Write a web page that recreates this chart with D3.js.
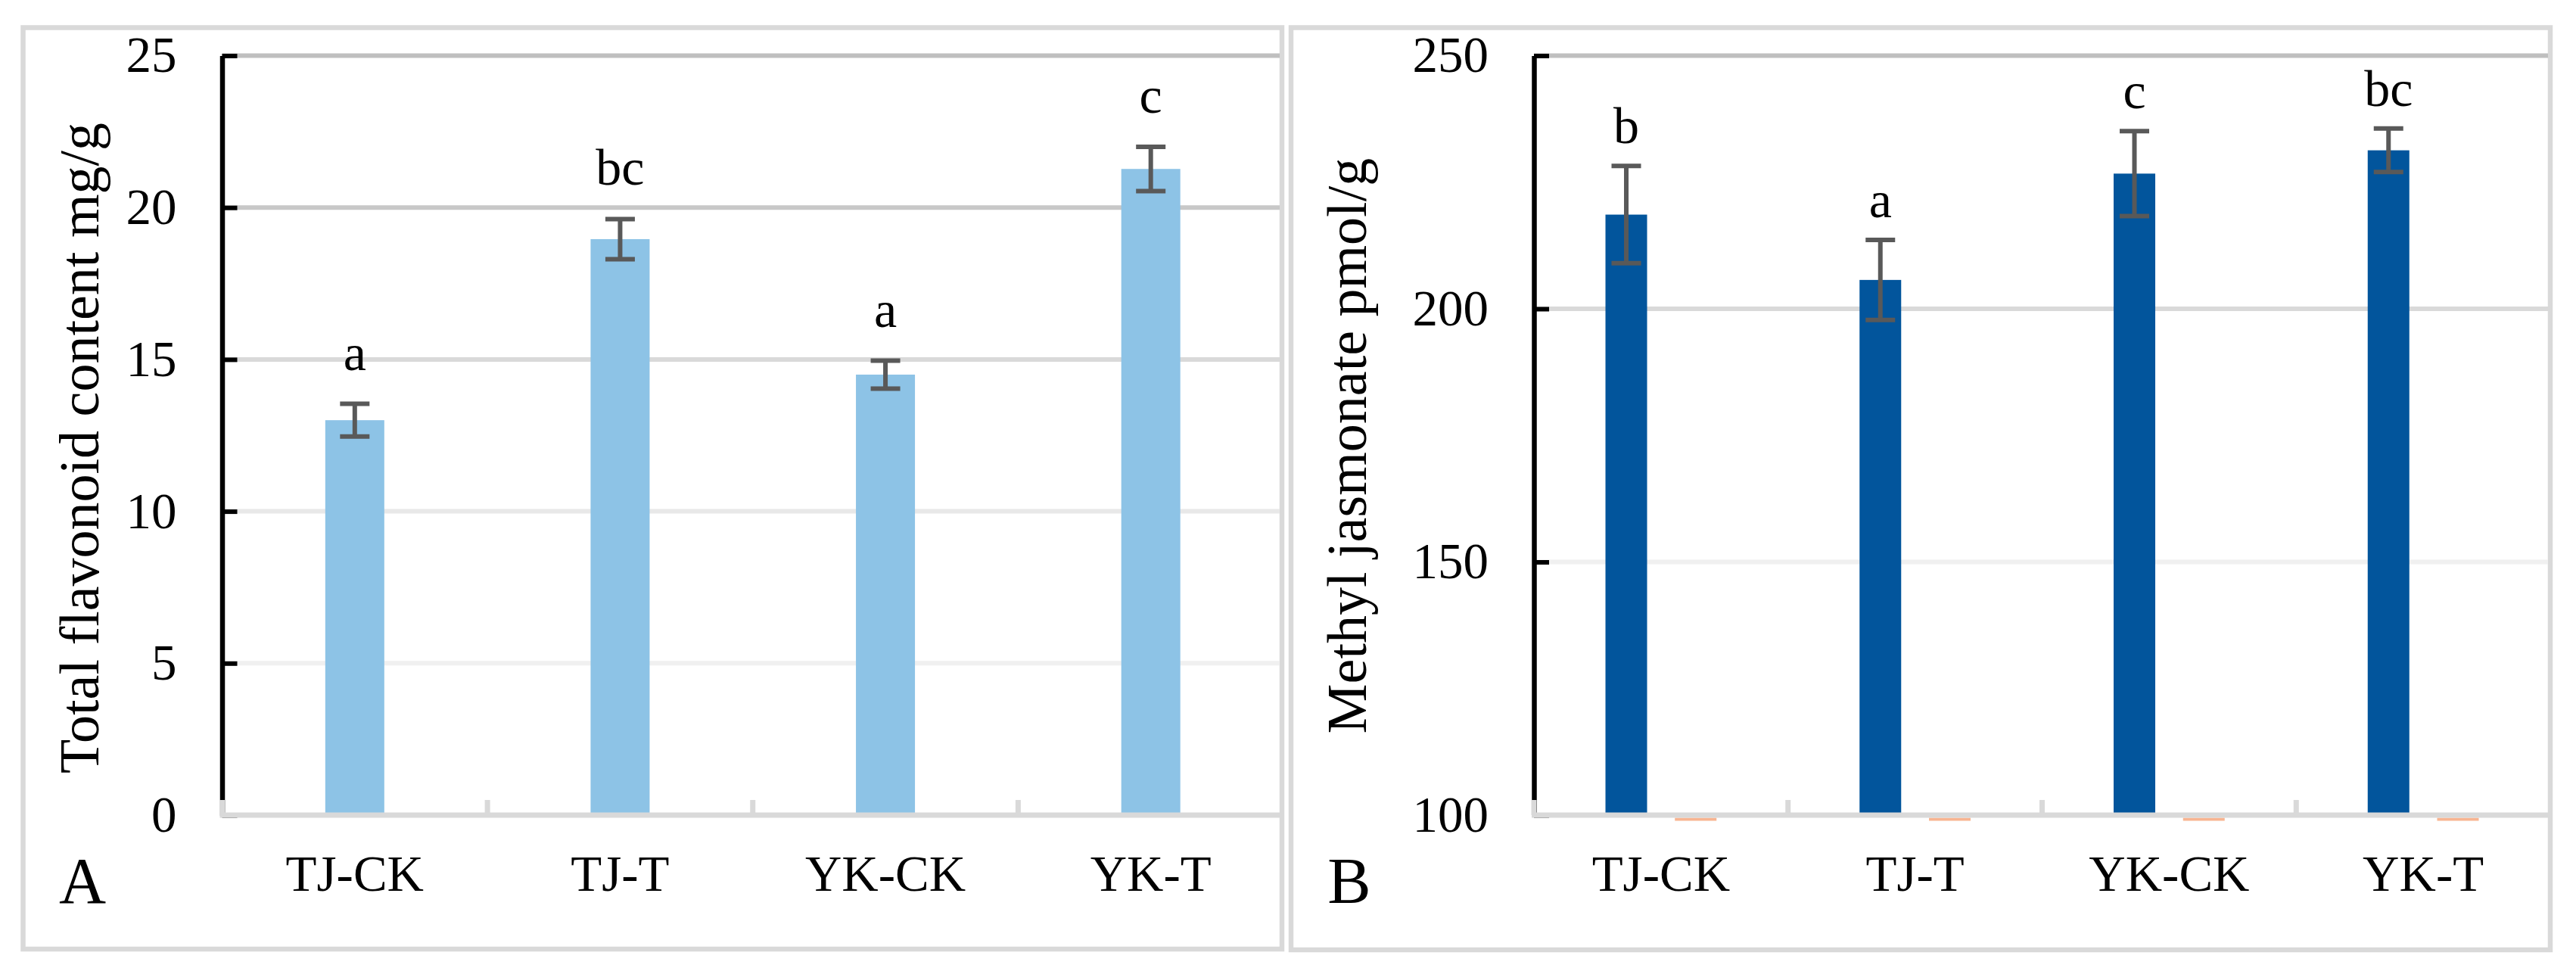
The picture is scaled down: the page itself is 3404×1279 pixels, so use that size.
<!DOCTYPE html>
<html>
<head>
<meta charset="utf-8">
<script src="https://cdn.jsdelivr.net/npm/d3@7"></script>
<style>
  body { margin: 0; background: #fff; }
  svg { display: block; font-family: "Liberation Serif", "Times New Roman", serif; }
</style>
</head>
<body>
<div class="container"></div>
<script>
// data
const categories = ["TJ-CK", "TJ-T", "YK-CK", "YK-T"];

const flavonoid = [13.0, 18.96, 14.5, 21.27];
const flavonoidErr = [0.54, 0.66, 0.46, 0.73];
const flavonoidLetters = ["a", "bc", "a", "c"];
const flavonoidTicks = [0, 5, 10, 15, 20, 25];

const mejaSeries = ["MeJA", "Series 2"];
const meja = [218.6, 205.7, 226.7, 231.3];
const mejaErr = [9.6, 7.9, 8.4, 4.3];
const mejaLetters = ["b", "a", "c", "bc"];
const mejaSecond = [0, 0, 0, 0];
const mejaTicks = [100, 150, 200, 250];

const W = 3404, H = 1279;
const FONT = '"Liberation Serif", "Times New Roman", serif';

const svg = d3.select(".container").append("svg")
    .attr("width", W)
    .attr("height", H);

const panels = [
  {
    frame: [30.5, 36.5, 1694, 1254],
    left: 293.5, right: 1696, gridEnd: 1691,
    ticks: flavonoidTicks,
    gridColors: ["#f0f0f0", "#e8e8e8", "#d9d9d9", "#c8c8c8", "#bfbfbf"],
    series: [{ name: "flavonoid", values: flavonoid, err: flavonoidErr, letters: flavonoidLetters, color: "#8dc3e6" }],
    barW: 78, letterGap: 45,
    title: "Total flavonoid content mg/g", titleX: 129.5, titleY: 592,
    tag: "A", tagX: 109
  },
  {
    frame: [1706, 36.5, 3370, 1255],
    left: 2027, right: 3370, gridEnd: 3367,
    ticks: mejaTicks,
    gridColors: ["#f0f0f0", "#d9d9d9", "#bfbfbf"],
    series: [
      { name: mejaSeries[0], values: meja, err: mejaErr, letters: mejaLetters, color: "#02559c" },
      { name: mejaSeries[1], values: mejaSecond, color: "#f8b592" }
    ],
    barW: 55, letterGap: 30,
    title: "Methyl jasmonate pmol/g", titleX: 1805, titleY: 589,
    tag: "B", tagX: 1783
  }
];

panels.forEach(drawPanel);

function drawPanel(p) {
  const g = svg.append("g");

  g.append("rect")
    .attr("x", p.frame[0])
    .attr("y", p.frame[1])
    .attr("width", p.frame[2] - p.frame[0])
    .attr("height", p.frame[3] - p.frame[1])
    .attr("fill", "none")
    .attr("stroke", "#d9d9d9")
    .attr("stroke-width", 6.5);

  const x = d3.scaleBand().domain(categories).range([p.left, p.right]);
  const y = d3.scaleLinear().domain(d3.extent(p.ticks)).range([1077, 73.5]);
  const base = y(p.ticks[0]);

  // sub-band for clustered bars
  const sub = d3.scaleBand()
      .domain(p.series.map(s => s.name))
      .range([0, x.bandwidth()]);
  if (p.series.length > 1) sub.paddingInner(0.4).paddingOuter(1.03);

  const center = (c, s) => p.series.length > 1
      ? x(c) + sub(s.name) + sub.bandwidth() / 2
      : x(c) + x.bandwidth() / 2;

  // gridlines
  g.selectAll(".grid")
    .data(p.ticks.slice(1))
    .join("line")
    .attr("class", "grid")
    .attr("x1", p.left)
    .attr("x2", p.gridEnd)
    .attr("y1", d => y(d))
    .attr("y2", d => y(d))
    .attr("stroke", (d, i) => p.gridColors[i])
    .attr("stroke-width", 6);

  // bars
  p.series.forEach(s => {
    if (s.err) {
      g.selectAll(null)
        .data(s.values)
        .join("rect")
        .attr("x", (d, i) => center(categories[i], s) - p.barW / 2)
        .attr("y", d => y(d))
        .attr("width", p.barW)
        .attr("height", d => base - y(d))
        .attr("fill", s.color);
    } else {
      // values below the axis minimum only show as a sliver under the axis
      g.selectAll(null)
        .data(s.values)
        .join("rect")
        .attr("x", (d, i) => center(categories[i], s) - p.barW / 2)
        .attr("y", base + 3.5)
        .attr("width", p.barW)
        .attr("height", d => d < y.domain()[0] ? 4 : 0)
        .attr("fill", s.color);
    }
  });

  // y axis
  const ya = g.append("g")
      .attr("transform", `translate(${p.left},0)`)
      .call(d3.axisLeft(y).tickValues(p.ticks).tickSize(-20).tickSizeOuter(0).tickPadding(60));
  ya.attr("font-family", FONT).attr("font-size", 67);
  ya.select(".domain").attr("stroke", "#000").attr("stroke-width", 6.5);
  ya.selectAll(".tick line").attr("stroke", "#000").attr("stroke-width", 6);
  ya.selectAll(".tick text").attr("fill", "#000");

  // x axis (grey) with inner ticks on category boundaries
  g.append("line")
    .attr("x1", p.left - 3)
    .attr("x2", p.gridEnd)
    .attr("y1", base)
    .attr("y2", base)
    .attr("stroke", "#d9d9d9")
    .attr("stroke-width", 7);

  const bounds = d3.range(categories.length).map(i => p.left + i * x.step());
  g.selectAll(".xtick")
    .data(bounds)
    .join("line")
    .attr("class", "xtick")
    .attr("x1", d => d)
    .attr("x2", d => d)
    .attr("y1", base)
    .attr("y2", base - 20)
    .attr("stroke", "#d9d9d9")
    .attr("stroke-width", 7);

  g.selectAll(".cat")
    .data(categories)
    .join("text")
    .attr("class", "cat")
    .attr("x", d => x(d) + x.bandwidth() / 2)
    .attr("y", 1177)
    .attr("text-anchor", "middle")
    .attr("font-size", 67)
    .text(d => d);

  // error bars and letters
  const s = p.series[0];
  const eb = g.selectAll(".err")
    .data(s.values)
    .join("g")
    .attr("class", "err")
    .attr("stroke", "#595959")
    .attr("stroke-width", 6);
  eb.append("line")
    .attr("x1", (d, i) => center(categories[i], s))
    .attr("x2", (d, i) => center(categories[i], s))
    .attr("y1", (d, i) => y(d - s.err[i]))
    .attr("y2", (d, i) => y(d + s.err[i]));
  [-1, 1].forEach(k => {
    eb.append("line")
      .attr("x1", (d, i) => center(categories[i], s) - 19.5)
      .attr("x2", (d, i) => center(categories[i], s) + 19.5)
      .attr("y1", (d, i) => y(d + k * s.err[i]))
      .attr("y2", (d, i) => y(d + k * s.err[i]));
  });

  g.selectAll(".letter")
    .data(s.values)
    .join("text")
    .attr("class", "letter")
    .attr("x", (d, i) => center(categories[i], s))
    .attr("y", (d, i) => y(d + s.err[i]) - p.letterGap)
    .attr("text-anchor", "middle")
    .attr("font-size", 68)
    .text((d, i) => s.letters[i]);

  // axis title and panel tag
  g.append("text")
    .attr("transform", `translate(${p.titleX},${p.titleY}) rotate(-90)`)
    .attr("text-anchor", "middle")
    .attr("font-size", 74)
    .text(p.title);

  g.append("text")
    .attr("x", p.tagX)
    .attr("y", 1193)
    .attr("text-anchor", "middle")
    .attr("font-size", 86)
    .text(p.tag);
}
</script>
</body>
</html>
